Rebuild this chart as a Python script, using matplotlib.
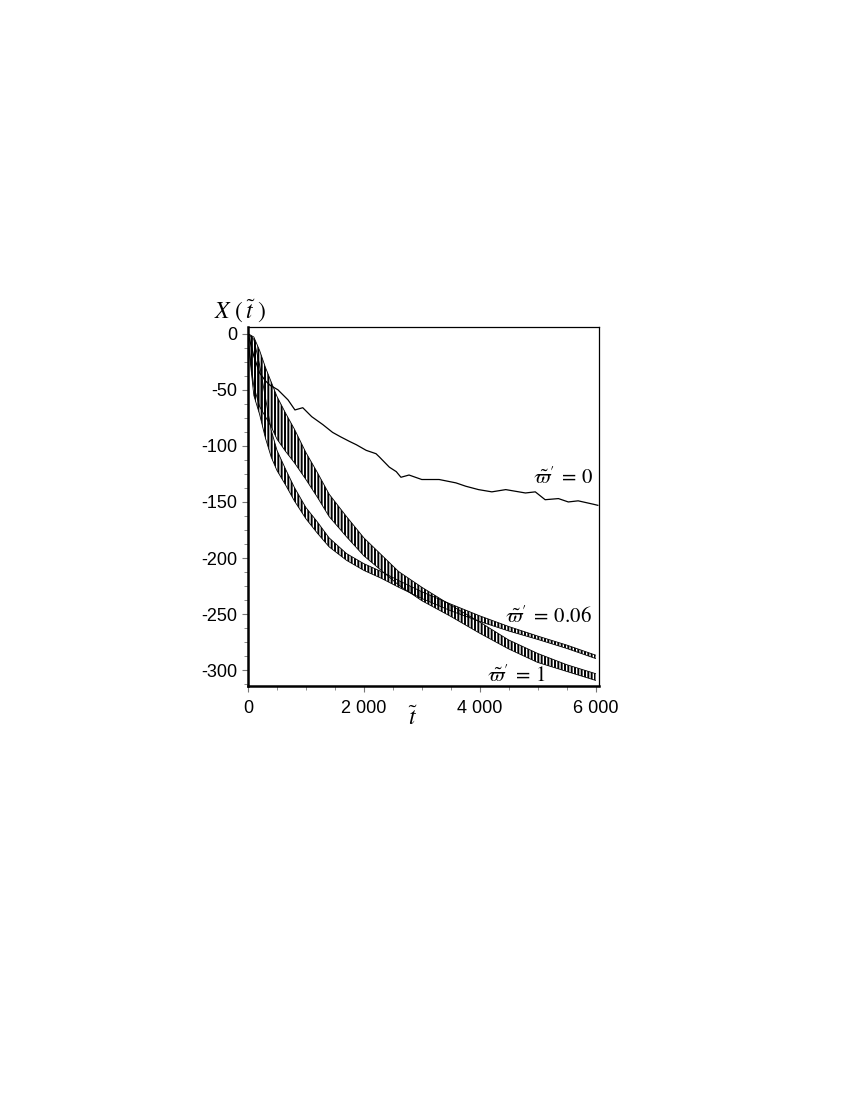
import numpy as np
import matplotlib.pyplot as plt
from matplotlib.ticker import MultipleLocator, FuncFormatter

plt.rcParams['font.family'] = ['Liberation Sans', 'DejaVu Sans']
plt.rcParams['mathtext.fontset'] = 'stix'
plt.rcParams['hatch.linewidth'] = 1.4

# omega' = 0 : smooth-ish curve, read point by point
t_w0 = [0, 100, 200, 300, 380, 515, 690, 810, 945, 1100, 1290, 1460, 1600, 1750,
        1870, 2040, 2210, 2270, 2440, 2560, 2640, 2780, 3000, 3300, 3590, 3760,
        3980, 4210, 4450, 4790, 4960, 5130, 5360, 5530, 5700, 5960, 6040]
x_w0 = [0, -20, -35, -42, -46, -50, -59, -68, -66, -74, -81, -88, -92, -96,
        -99, -104, -107, -110, -119, -123, -128, -126, -130, -130, -133, -136,
        -139, -141, -139, -142, -141, -148, -147, -150, -149, -152, -153]

# oscillating curves: centre line and half width of the oscillation band
t_osc = [0, 100, 200, 300, 400, 500, 650, 800, 1000, 1200, 1400, 1700, 2000,
         2300, 2600, 3000, 3500, 4000, 4500, 5000, 5500, 6000]
x_w006 = [-3, -30, -50, -75, -98, -113, -128, -143, -160, -173, -186, -199, -208,
          -215, -223, -233, -244, -254, -263, -271, -279, -288]
hw_w006 = [3, 25, 22, 18, 12, 9, 7, 6, 5, 5, 4, 3, 3, 3, 3, 3, 3, 2.5, 2, 1.5, 1.5, 1.5]
x_w1 = [-3, -25, -40, -52, -63, -75, -88, -100, -118, -135, -153, -172, -190,
        -204, -218, -232, -247, -262, -277, -289, -298, -306]
hw_w1 = [3, 22, 25, 22, 20, 19, 17, 15, 12, 11, 10, 9, 8, 7, 6, 6, 5, 5, 4, 4, 3, 3]

xticks = [0, 2000, 4000, 6000]
yticks = [0, -50, -100, -150, -200, -250, -300]

fig = plt.figure(figsize=(8.5, 11), dpi=100)
ax = fig.add_axes([0.2918, 0.3764, 0.4129, 0.3264])

ax.plot(t_w0, x_w0, color='black', lw=0.9)

for xc, hw in [(x_w006, hw_w006), (x_w1, hw_w1)]:
    xc = np.array(xc, dtype=float)
    hw = np.array(hw, dtype=float)
    ax.fill_between(t_osc, xc - hw, xc + hw, facecolor='none', edgecolor='black',
                    hatch='|||||', linewidth=0)
    ax.plot(t_osc, xc - hw, color='black', lw=0.6)
    ax.plot(t_osc, xc + hw, color='black', lw=0.6)

ax.set_xlim(0, 6060)
ax.set_ylim(-314, 6)

ax.set_xticks(xticks)
ax.set_yticks(yticks)
ax.xaxis.set_minor_locator(MultipleLocator(500))
ax.yaxis.set_minor_locator(MultipleLocator(12.5))
ax.xaxis.set_major_formatter(FuncFormatter(lambda v, p: f"{int(v):,}".replace(",", " ")))
ax.yaxis.set_major_formatter(FuncFormatter(lambda v, p: f"{int(v)}"))
ax.tick_params(which='both', direction='out', color='#777777', labelsize=13)
ax.tick_params(which='major', length=4)
ax.tick_params(which='minor', length=3)
ax.tick_params(axis='y', pad=4)
ax.tick_params(axis='x', pad=6)

for s in ['left', 'bottom']:
    ax.spines[s].set_linewidth(1.8)
for s in ['top', 'right']:
    ax.spines[s].set_linewidth(0.9)

fig.text(214 / 850, 1 - 311 / 1100, r"$X\,\,(\,\tilde{t}\,\,)$", fontsize=17,
         ha='left', va='center')
fig.text(413 / 850, 1 - 718 / 1100, r"$\tilde{t}$", fontsize=17,
         ha='center', va='center')

ax.text(4920, -128, r"$\tilde{\varpi}' \:=\: 0$", fontsize=15, ha='left', va='center')
ax.text(4440, -252, r"$\tilde{\varpi}' \:=\: 0.06$", fontsize=15, ha='left', va='center')
ax.text(4120, -304, r"$\tilde{\varpi}' \:=\: 1$", fontsize=15, ha='left', va='center')

fig.savefig('out.png', dpi=100)
